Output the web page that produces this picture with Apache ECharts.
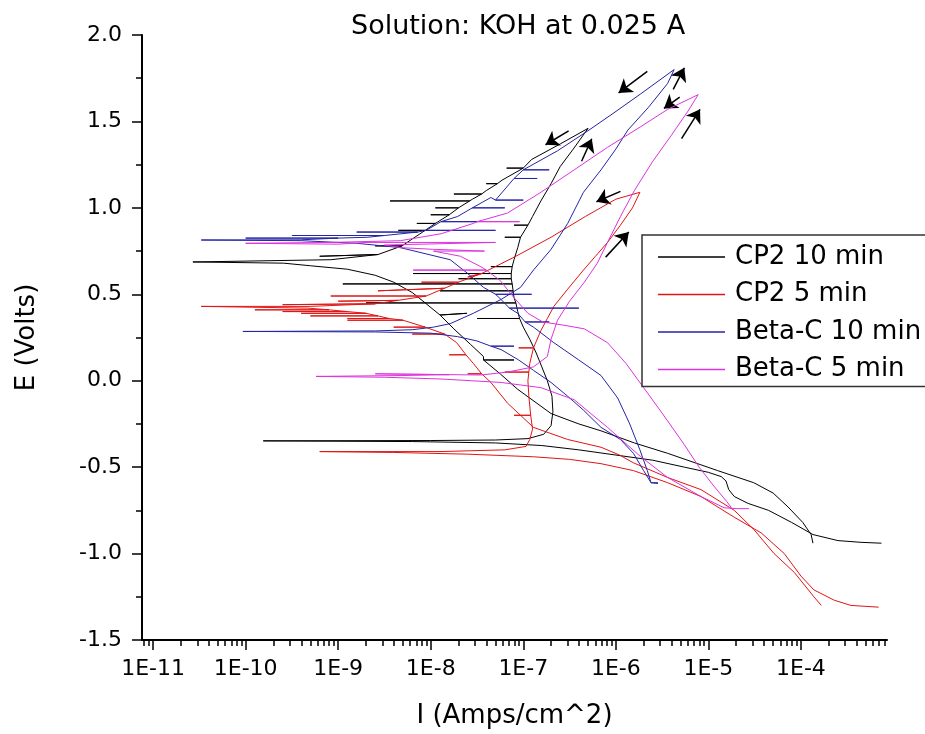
<!DOCTYPE html>
<html>
<head>
<meta charset="utf-8">
<script src="https://cdn.jsdelivr.net/npm/echarts@6/dist/echarts.min.js"></script>
<style>
html, body { margin: 0; padding: 0; background: #fff; }
#chart { width: 925px; height: 734px; }
</style>
</head>
<body>
<div id="chart"></div>
<script>
// x = log10(I) in Amps/cm^2, y = E in Volts (scan order, noise spikes included)
var cp2_10min = [
	[-3.13,-0.94],[-3.35,-0.935],[-3.6,-0.925],[-3.87,-0.89],[-4.1,-0.82],[-4.35,-0.75],[-4.57,-0.71],
	[-4.72,-0.67],[-4.78,-0.63],[-4.81,-0.58],[-4.86,-0.555],[-5.0,-0.53],[-5.26,-0.50],[-5.6,-0.46],
	[-6.0,-0.43],[-6.4,-0.40],[-6.8,-0.375],[-7.3,-0.36],[-8.2,-0.352],[-9.81,-0.348],[-8.0,-0.346],
	[-7.3,-0.343],[-6.95,-0.335],[-6.78,-0.31],[-6.70,-0.26],[-6.68,-0.18],[-6.69,-0.09],[-6.74,0.0],
	[-6.8,0.08],[-6.86,0.16],[-6.93,0.24],[-7.0,0.31],[-7.04,0.36],[-7.5,0.36],[-7.04,0.36],[-7.06,0.40],
	[-7.08,0.45],[-8.7,0.45],[-7.08,0.45],[-7.1,0.48],[-7.11,0.52],[-7.9,0.52],[-7.11,0.52],[-7.12,0.56],
	[-8.95,0.56],[-7.12,0.56],[-7.13,0.59],[-7.7,0.59],[-7.13,0.59],[-7.13,0.62],[-8.19,0.62],[-7.13,0.62],
	[-7.12,0.66],[-7.35,0.66],[-7.12,0.66],[-7.10,0.70],[-7.06,0.77],[-7.03,0.83],[-7.2,0.83],[-7.03,0.83],
	[-6.95,0.90],[-7.1,0.90],[-6.95,0.90],[-6.90,0.95],[-6.81,1.04],[-6.70,1.14],[-6.60,1.24],[-6.46,1.34],
	[-6.30,1.46],
	[-6.6,1.37],[-6.91,1.28],[-7.0,1.23],[-7.18,1.23],[-7.0,1.23],[-7.23,1.16],[-7.28,1.14],[-7.40,1.14],
	[-7.28,1.14],[-7.40,1.10],[-7.45,1.08],[-7.75,1.08],[-7.45,1.08],[-7.55,1.05],[-7.58,1.04],[-8.44,1.04],
	[-7.58,1.04],[-7.70,1.00],[-7.95,1.00],[-7.70,1.00],[-7.80,0.96],[-8.0,0.96],[-7.80,0.96],[-7.95,0.91],
	[-8.15,0.91],[-7.95,0.91],[-8.06,0.87],[-8.35,0.87],[-8.06,0.87],[-8.2,0.82],[-8.31,0.78],[-8.6,0.78],
	[-8.31,0.78],[-8.57,0.73],[-9.2,0.72],[-8.57,0.73],[-9.08,0.70],[-10.57,0.687],
	[-9.59,0.68],[-9.3,0.665],[-8.9,0.645],[-8.6,0.61],[-8.4,0.57],[-8.2,0.51],[-8.06,0.45],[-7.9,0.38],
	[-7.61,0.39],[-7.9,0.38],[-7.75,0.30],[-7.57,0.21],[-7.43,0.14],[-7.43,0.12],[-7.1,0.12],[-7.43,0.12],
	[-7.25,0.04],[-7.06,-0.05],[-6.70,-0.19],[-6.4,-0.25],[-6.16,-0.29],[-5.80,-0.36],[-5.44,-0.42],
	[-4.90,-0.52],[-4.51,-0.59],[-4.30,-0.65],[-4.14,-0.73],[-3.98,-0.82],[-3.89,-0.89],[-3.87,-0.94]
];
var cp2_5min = [
	[-3.16,-1.31],[-3.46,-1.30],[-3.64,-1.27],[-3.86,-1.21],[-4.0,-1.13],[-4.18,-1.0],[-4.43,-0.88],
	[-4.72,-0.79],[-5.08,-0.67],[-5.44,-0.59],[-5.81,-0.52],[-6.16,-0.48],[-6.5,-0.455],[-6.89,-0.44],
	[-7.6,-0.425],[-8.4,-0.415],[-9.20,-0.41],[-7.9,-0.41],[-7.2,-0.40],[-6.97,-0.38],[-6.93,-0.34],
	[-6.90,-0.28],[-6.92,-0.20],[-7.1,-0.20],[-6.92,-0.20],[-6.94,-0.09],[-6.95,0.0],[-6.94,0.05],
	[-7.2,0.05],[-6.94,0.05],[-6.93,0.10],[-6.89,0.19],[-7.05,0.19],[-6.89,0.19],[-6.81,0.29],[-6.74,0.36],
	[-6.67,0.43],[-6.52,0.53],[-6.35,0.64],[-6.22,0.72],[-6.09,0.80],[-5.95,0.90],[-5.82,1.00],[-5.74,1.09],
	[-6.0,1.05],[-6.33,0.95],[-6.7,0.83],[-7.08,0.72],[-7.45,0.62],[-7.6,0.60],[-7.45,0.62],[-7.7,0.57],
	[-8.1,0.57],[-7.7,0.57],[-7.85,0.535],[-8.57,0.52],[-7.85,0.535],[-8.05,0.49],[-9.08,0.49],[-8.05,0.49],
	[-8.35,0.465],[-9.0,0.46],[-8.35,0.465],[-8.6,0.445],[-9.6,0.44],[-8.6,0.445],[-9.3,0.43],[-10.48,0.43],
	[-9.33,0.42],[-9.1,0.41],[-9.9,0.41],[-9.1,0.41],[-8.9,0.40],[-9.6,0.40],[-8.9,0.40],[-8.7,0.39],
	[-9.4,0.39],[-8.7,0.39],[-8.57,0.375],[-9.3,0.375],[-8.57,0.375],[-8.45,0.36],[-8.9,0.36],[-8.45,0.36],
	[-8.3,0.35],[-8.9,0.35],[-8.3,0.35],[-8.06,0.31],[-8.4,0.31],[-8.06,0.31],[-7.85,0.27],[-8.2,0.27],
	[-7.85,0.27],[-7.72,0.22],[-7.62,0.15],[-7.8,0.15],[-7.62,0.15],[-7.54,0.10],[-7.45,0.04],[-7.6,0.04],
	[-7.45,0.04],[-7.35,-0.01],[-7.17,-0.13],[-6.89,-0.27],[-6.52,-0.34],[-6.16,-0.385],[-5.96,-0.43],
	[-5.81,-0.475],[-5.44,-0.56],[-5.08,-0.63],[-4.72,-0.75],[-4.51,-0.86],[-4.29,-1.0],[-4.07,-1.11],
	[-3.86,-1.25],[-3.78,-1.30]
];
var betaC_10min = [
	[-5.545,-0.59],[-5.62,-0.59],[-5.70,-0.52],[-5.81,-0.42],[-5.95,-0.34],[-6.16,-0.27],[-6.35,-0.17],
	[-6.52,-0.09],[-6.7,-0.01],[-6.89,0.06],[-7.05,0.12],[-7.24,0.18],[-7.35,0.20],[-7.10,0.20],[-7.35,0.20],
	[-7.5,0.23],[-7.71,0.255],[-8.0,0.275],[-8.6,0.282],[-10.03,0.285],[-8.6,0.288],[-8.2,0.295],[-7.97,0.31],
	[-7.79,0.33],[-7.54,0.39],[-7.24,0.47],[-7.03,0.54],[-6.89,0.64],[-6.70,0.76],[-6.52,0.91],[-6.35,1.09],
	[-6.16,1.22],[-6.0,1.34],[-5.87,1.45],[-5.65,1.58],[-5.44,1.72],[-5.37,1.80],
	[-5.73,1.66],[-6.02,1.55],[-6.29,1.45],[-6.63,1.33],[-7.0,1.22],[-6.72,1.22],[-7.0,1.22],[-7.1,1.17],
	[-6.85,1.17],[-7.1,1.17],[-7.3,1.045],[-7.0,1.045],[-7.3,1.045],[-7.35,1.06],[-7.55,1.0],[-7.2,1.0],
	[-7.55,1.0],[-7.71,0.95],[-7.89,0.92],[-7.5,0.92],[-7.89,0.92],[-8.05,0.87],[-7.3,0.87],[-8.05,0.87],
	[-8.14,0.86],[-8.8,0.86],[-8.14,0.86],[-8.5,0.84],[-9.5,0.84],[-8.5,0.84],[-8.68,0.83],[-9.0,0.825],
	[-10.0,0.825],[-9.0,0.825],[-9.41,0.815],[-10.48,0.814],[-9.4,0.81],[-8.8,0.795],[-8.33,0.77],[-7.79,0.70],
	[-7.60,0.62],[-7.43,0.54],[-7.3,0.50],[-6.91,0.50],[-7.3,0.50],[-7.24,0.47],[-7.15,0.42],[-6.40,0.42],
	[-7.15,0.42],[-7.06,0.39],[-6.98,0.34],[-6.72,0.34],[-6.98,0.34],[-6.89,0.31],[-6.67,0.22],[-6.4,0.12],
	[-6.16,0.03],[-5.98,-0.10],[-5.85,-0.25],[-5.74,-0.40],[-5.66,-0.52],[-5.62,-0.59],[-5.545,-0.595]
];
var betaC_5min = [
	[-4.56,-0.74],[-4.7,-0.74],[-4.83,-0.735],[-5.08,-0.67],[-5.44,-0.56],[-5.73,-0.44],[-6.09,-0.27],
	[-6.45,-0.11],[-6.81,-0.04],[-7.24,-0.01],[-7.89,0.01],[-8.5,0.02],[-9.24,0.025],[-8.3,0.03],[-7.8,0.035],
	[-8.6,0.04],[-7.8,0.035],[-7.46,0.033],[-7.17,0.05],[-6.89,0.08],[-6.74,0.14],[-6.70,0.24],[-6.63,0.35],
	[-6.5,0.46],[-6.34,0.57],[-6.2,0.68],[-6.09,0.80],[-5.95,0.95],[-5.80,1.10],[-5.60,1.27],[-5.40,1.42],
	[-5.22,1.56],[-5.11,1.655],
	[-5.44,1.57],[-5.73,1.47],[-6.09,1.35],[-6.45,1.22],[-6.81,1.09],[-7.17,0.97],[-7.5,0.92],[-7.04,0.92],
	[-7.5,0.92],[-7.54,0.91],[-7.89,0.85],[-8.33,0.81],[-9.08,0.80],[-10.0,0.795],[-9.0,0.79],[-8.7,0.80],
	[-7.3,0.80],[-8.5,0.785],[-8.33,0.77],[-7.97,0.76],[-7.42,0.75],[-7.97,0.75],[-7.68,0.72],[-7.46,0.66],
	[-7.4,0.64],[-8.19,0.64],[-7.4,0.64],[-7.25,0.58],[-7.10,0.48],[-6.95,0.39],[-6.79,0.34],[-6.55,0.32],
	[-6.34,0.30],[-6.09,0.22],[-5.89,0.10],[-5.70,-0.04],[-5.51,-0.18],[-5.26,-0.37],[-5.1,-0.50],
	[-4.94,-0.61],[-4.80,-0.70],[-4.75,-0.735]
];
// scan direction arrows: [tail, head]
var scanArrows = [
	[[-5.66,1.79],[-5.97,1.665]],
	[[-5.38,1.685],[-5.26,1.81]],
	[[-5.31,1.64],[-5.48,1.575]],
	[[-5.29,1.40],[-5.09,1.57]],
	[[-6.51,1.445],[-6.76,1.365]],
	[[-6.37,1.27],[-6.26,1.40]],
	[[-5.95,1.095],[-6.21,1.035]],
	[[-6.11,0.715],[-5.86,0.86]]
];
var seriesNames = ['CP2 10 min', 'CP2 5 min', 'Beta-C 10 min', 'Beta-C 5 min'];
var seriesColors = ['#000000', '#e01515', '#2424a6', '#dd33dd'];
var majorTicks = [-11, -10, -9, -8, -7, -6, -5, -4];
var xMin = -11.12, xMax = -3.07;

var font = 'DejaVu Sans';

var minorTicks = [];
for (var n = -12; n <= -4; n++) {
	for (var k = 2; k <= 9; k++) {
		var v = n + Math.log10(k);
		if (v > xMin && v < xMax) minorTicks.push(v);
	}
}

var lineSeries = function(name, data, color) {
	return {
		name: name,
		type: 'line',
		data: data,
		symbol: 'none',
		showSymbol: false,
		silent: true,
		lineStyle: { color: color, width: 1 },
		itemStyle: { color: color }
	};
};

var chart = echarts.init(document.getElementById('chart'));
var option = {
	animation: false,
	backgroundColor: '#fff',
	title: {
		text: 'Solution: KOH at 0.025 A',
		left: 346,
		top: 8,
		textStyle: { fontFamily: font, fontSize: 27, fontWeight: 'normal', color: '#000' }
	},
	grid: { left: 142, top: 35, width: 745, height: 605 },
	legend: {
		orient: 'vertical',
		left: 642,
		top: 235,
		data: seriesNames,
		icon: 'rect',
		itemWidth: 67,
		itemHeight: 1.5,
		itemGap: 7.5,
		padding: [7, 30, 2, 16],
		borderColor: '#333',
		borderWidth: 1.5,
		backgroundColor: '#fff',
		selectedMode: false,
		textStyle: { fontFamily: font, fontSize: 26, color: '#000', lineHeight: 30, padding: [0, 0, 0, 5] }
	},
	xAxis: [
		{
			type: 'value',
			min: xMin,
			max: xMax,
			name: 'I (Amps/cm^2)',
			nameLocation: 'middle',
			nameGap: 63,
			nameTextStyle: { fontFamily: font, fontSize: 26, color: '#000' },
			axisLine: { onZero: false, lineStyle: { color: '#000', width: 2 } },
			axisTick: { customValues: majorTicks, length: 10, lineStyle: { color: '#000', width: 1.5 } },
			axisLabel: {
				customValues: majorTicks,
				margin: 18,
				fontFamily: font,
				fontSize: 22,
				color: '#000',
				formatter: function(v) { return '1E' + Math.round(v); }
			},
			splitLine: { show: false }
		},
		{
			type: 'value',
			min: xMin,
			max: xMax,
			position: 'bottom',
			axisLine: { show: false, onZero: false },
			axisTick: { customValues: minorTicks, length: 6, lineStyle: { color: '#000', width: 1.5 } },
			axisLabel: { show: false },
			splitLine: { show: false }
		}
	],
	yAxis: {
		type: 'value',
		min: -1.5,
		max: 2.0,
		interval: 0.5,
		name: 'E (Volts)',
		nameLocation: 'middle',
		nameGap: 102,
		nameTextStyle: { fontFamily: font, fontSize: 26, color: '#000' },
		axisLine: { onZero: false, lineStyle: { color: '#000', width: 2 } },
		axisTick: { length: 10, lineStyle: { color: '#000', width: 1.5 } },
		minorTick: { show: true, splitNumber: 2, length: 6, lineStyle: { color: '#000', width: 1.5 } },
		axisLabel: {
			margin: 20,
			fontFamily: font,
			fontSize: 22,
			color: '#000',
			formatter: function(v) { return v.toFixed(1); }
		},
		splitLine: { show: false }
	},
	series: [
		lineSeries(seriesNames[0], cp2_10min, seriesColors[0]),
		lineSeries(seriesNames[1], cp2_5min, seriesColors[1]),
		lineSeries(seriesNames[2], betaC_10min, seriesColors[2]),
		lineSeries(seriesNames[3], betaC_5min, seriesColors[3]),
		{
			name: 'arrows',
			type: 'lines',
			coordinateSystem: 'cartesian2d',
			silent: true,
			symbol: ['none', 'arrow'],
			symbolSize: 13,
			lineStyle: { color: '#000', width: 1.5, opacity: 1 },
			data: scanArrows.map(function(a) { return { coords: a }; })
		}
	]
};
chart.setOption(option);
</script>
</body>
</html>
